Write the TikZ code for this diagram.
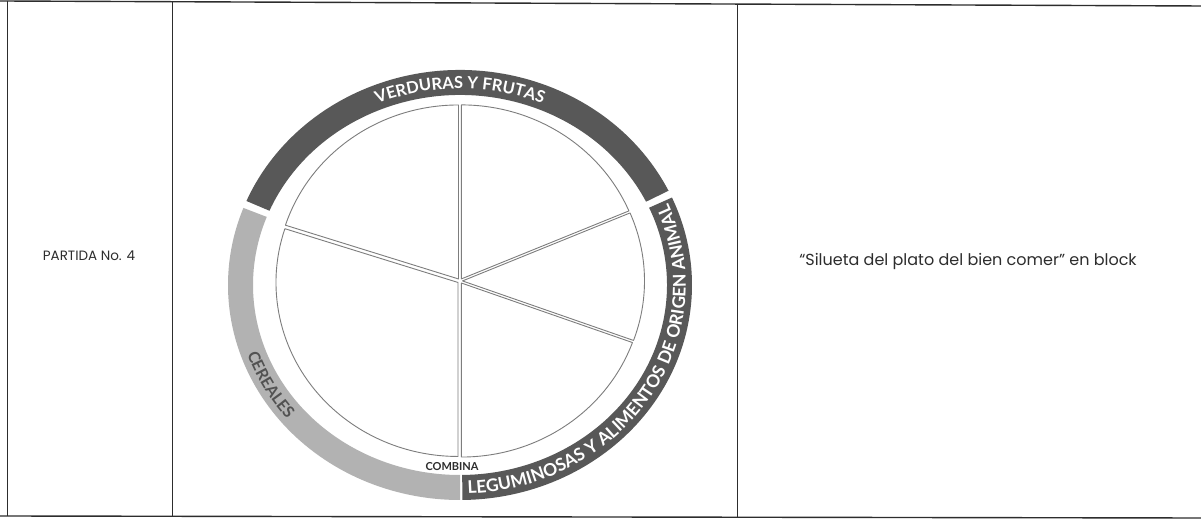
\documentclass[tikz,border=0pt]{standalone}
\usepackage{fontspec}
\setmainfont{Poppins}
\newfontfamily\platefam{Lato}
\usetikzlibrary{decorations.text}
\definecolor{ink}{RGB}{45,45,45}
\definecolor{rim}{RGB}{125,125,125}
\definecolor{slate}{RGB}{88,88,88}
\definecolor{ash}{RGB}{178,178,178}
\definecolor{grain}{RGB}{82,82,82}
\newcommand{\ringtext}[1]{\platefam\bfseries\fontsize{#1}{#1}\selectfont}
\tikzset{
  rule/.style={draw=ink,line width=1.4pt},
  cellrule/.style={draw=ink,line width=1pt},
  band/.style={fill=#1},
  band/.default=slate,
  wedge/.style={draw=rim,fill=white,line width=0.9pt,line join=round},
  cell/.style={font=\fontsize{#1}{#1}\selectfont,text=ink,inner sep=0pt},
  cell/.default=14,
  ringlabel/.style={decorate,decoration={text along path,text align=center,text={#1}}},
}
\begin{document}
\begin{tikzpicture}[x=1pt,y=1pt]
  \fill[white] (0,0) rectangle (1201,521);
  \useasboundingbox (0,0) rectangle (1201,521);
  % table rules
  \coordinate (tl) at (0,520); \coordinate (tr) at (1201,515);
  \coordinate (bl) at (0,5); \coordinate (br) at (1201,3);
  \draw[rule] (tl) -- (tr);
  \draw[rule] (bl) -- (br);
  \foreach \x/\yt/\yb in {7/520/5,172/519.3/4.7,737/517/3.8}
    \draw[cellrule] (\x,\yt) -- (\x,\yb);
  \node[cell=13.5] (partida) at (89,265) {PARTIDA No. 4};
  \node[cell=16] (silueta) at (968,260) {“Silueta del plato del bien comer” en block};
  % ring bands
  \begin{scope}[shift={(460,236)}]
    \foreach \a/\b/\c in {26/157/slate,159/270/ash,270.6/384/slate}
      \fill[band=\c] (\a:232 and 215) arc[start angle=\a,end angle=\b,x radius=232,y radius=215]
        -- (\b:207 and 190) arc[start angle=\b,end angle=\a,x radius=207,y radius=190] -- cycle;
    \path[ringlabel={|\ringtext{16.5}\color{white}|VERDURAS Y FRUTAS}]
      (150:213.5 and 196.5) arc[start angle=150,end angle=30,x radius=213.5,y radius=196.5];
    \path[ringlabel={|\ringtext{16}\color{grain}|CEREALES}]
      (190:225.5 and 208.5) arc[start angle=190,end angle=229,x radius=225.5,y radius=208.5];
    \path[ringlabel={|\ringtext{17.5}\color{white}|LEGUMINOSAS Y ALIMENTOS DE ORIGEN ANIMAL}]
      (271:225.8 and 208.8) arc[start angle=271,end angle=384,x radius=225.8,y radius=208.8];
  \end{scope}
  % plate wedges
  \begin{scope}[shift={(460,240)}]
    \foreach \a/\b in {90/162,162/270,270/340,340/383,23/90}{
      \pgfmathsetmacro{\m}{(\a+\b)/2}
      \draw[wedge,shift={(\m:2.5)}] (0,0) -- (\a:182 and 174)
        arc[start angle=\a,end angle=\b,x radius=182,y radius=174] -- cycle;
    }
  \end{scope}
  \node[font=\platefam\bfseries\fontsize{11}{11}\selectfont,text=ink,inner sep=0pt] (combina) at (452,54) {COMBINA};
\end{tikzpicture}
\end{document}
